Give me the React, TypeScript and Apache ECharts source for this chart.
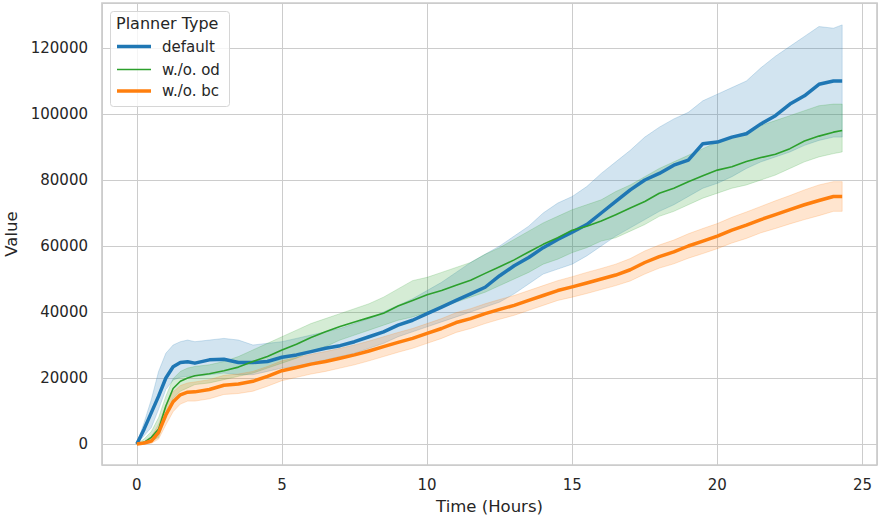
import React, { useEffect, useRef } from "react";
import * as echarts from "echarts";

// Time (hours) at which values were read
const HOURS = [
  0, 0.25, 0.5, 0.75, 1, 1.25, 1.5, 1.75, 2, 2.5, 3, 3.5, 4, 4.5, 5, 5.5, 6, 6.5, 7, 7.5, 8, 8.5, 9, 9.5,
  10, 10.5, 11, 11.5, 12, 12.5, 13, 13.5, 14, 14.5, 15, 15.5, 16, 16.5, 17, 17.5, 18, 18.5, 19, 19.5,
  20, 20.5, 21, 21.5, 22, 22.5, 23, 23.5, 24, 24.3,
];

// Planner Type: default
const DEFAULT_MEAN = [
  0, 4500, 9500, 14500, 20000, 23400, 24700, 24900, 24500, 25500, 25700, 24700, 24700, 25000, 26300, 27000,
  28000, 29000, 29800, 31000, 32500, 34000, 36000, 37500, 39500, 41500, 43500, 45500, 47500, 51000, 54000,
  56500, 59500, 62000, 64200, 66500, 70000, 73500, 77000, 80000, 82000, 84500, 86000, 91000, 91500, 93000,
  94000, 97000, 99500, 103000, 105500, 109000, 110000, 110000,
];
const DEFAULT_HI = [
  0, 6500, 13500, 22000, 27500, 30000, 31000, 31500, 31000, 31500, 32000, 31500, 30000, 30500, 31000, 32000,
  33000, 34000, 35000, 36500, 38000, 40000, 42000, 44000, 46500, 49000, 52000, 55000, 57500, 60000, 63000,
  66000, 70000, 73000, 75000, 78000, 82000, 85500, 89000, 93000, 96000, 98500, 100500, 104000, 106000, 108000,
  110000, 114000, 117500, 120500, 123500, 126500, 126000, 127000,
];
const DEFAULT_LO = [
  0, 2500, 5000, 10500, 16500, 19400, 20200, 20500, 20500, 21000, 21500, 21000, 21000, 22000, 23000, 23500,
  24500, 25500, 26500, 27500, 29000, 30500, 32500, 34000, 35500, 37000, 38500, 40000, 41500, 43000, 45500,
  48500, 51500, 53000, 54500, 57000, 60000, 63000, 65500, 68000, 70500, 72500, 75000, 77500, 79000, 81000,
  83500, 85500, 87000, 88500, 90500, 92000, 93000, 93000,
];

// Planner Type: w./o. od
const OD_MEAN = [
  0, 500, 2000, 4500, 11500, 16800, 19000, 20000, 20700, 21300, 22200, 23300, 25000, 26500, 28500, 30200,
  32300, 34000, 35600, 37000, 38300, 39600, 41800, 43500, 45200, 46500, 48100, 49600, 51700, 53700, 55800,
  58200, 60500, 62500, 64800, 66000, 67600, 69500, 71500, 73500, 76000, 77500, 79500, 81300, 83000, 84000,
  85600, 86800, 87800, 89500, 91800, 93300, 94500, 95000,
];
const OD_HI = [
  0, 1500, 3800, 8000, 14500, 19800, 22000, 23000, 23500, 24000, 25000, 26500, 28500, 30500, 32500, 34500,
  36500, 38000, 39500, 41000, 42500, 44500, 47000, 49500, 50500, 52000, 53500, 55000, 57500, 59500, 62000,
  64500, 67000, 69000, 71000, 72500, 74000, 76500, 78500, 81000, 83500, 85500, 87500, 89500, 91500, 93000,
  94500, 96500, 98000, 99500, 101000, 102500, 103000, 103000,
];
const OD_LO = [
  0, 0, 800, 2000, 8500, 13800, 16000, 17000, 18000, 18500, 19500, 20500, 21500, 23000, 24500, 26000,
  28000, 29500, 31500, 33000, 34500, 36000, 37500, 38500, 40000, 41500, 43000, 44500, 46000, 48000, 50000,
  52000, 54500, 56000, 58000, 59500, 61500, 62500, 64500, 66500, 69000, 70500, 72500, 74500, 76000, 77500,
  78500, 80000, 81500, 83500, 85500, 87000, 88000, 88500,
];

// Planner Type: w./o. bc
const BC_MEAN = [
  0, 300, 900, 3500, 8800, 12800, 14900, 15700, 15800, 16500, 17800, 18200, 19000, 20500, 22200, 23200,
  24200, 25000, 26000, 27000, 28200, 29500, 30800, 32000, 33500, 35000, 36800, 38000, 39500, 40800, 42000,
  43500, 45000, 46500, 47600, 48800, 50000, 51200, 52800, 55000, 56800, 58200, 60000, 61500, 63000, 64800,
  66300, 68000, 69500, 71000, 72500, 73800, 75000, 75000,
];
const BC_HI = [
  0, 700, 2200, 6000, 11800, 15800, 17700, 18500, 18800, 19500, 20800, 21200, 22000, 23500, 25200, 26200,
  27200, 28000, 29000, 30000, 31200, 32500, 33800, 35000, 36500, 38000, 39800, 41000, 42500, 43800, 45000,
  46500, 48000, 49500, 50700, 52000, 53200, 54500, 56200, 58500, 60300, 61800, 63700, 65300, 66800, 68700,
  70300, 72000, 73700, 75300, 77000, 78500, 79500, 79500,
];
const BC_LO = [
  0, 0, 200, 1500, 5800, 9800, 12100, 13000, 13000, 13700, 15000, 15300, 16000, 17500, 19200, 20200,
  21200, 22000, 23000, 24000, 25200, 26500, 27800, 29000, 30500, 32000, 33800, 35000, 36500, 37800, 39000,
  40500, 42000, 43500, 44500, 45600, 46800, 48000, 49400, 51500, 53300, 54600, 56300, 57700, 59200, 60900,
  62300, 64000, 65300, 66700, 68000, 69200, 70500, 70500,
];

const NAMES = ["default", "w./o. od", "w./o. bc"];
const COLORS = ["#1f77b4", "#2ca02c", "#ff7f0e"];
const BAND_COLORS = ["rgba(31,119,180,0.2)", "rgba(44,160,44,0.2)", "rgba(255,127,14,0.2)"];
const WIDTHS = [3.5, 1.6, 3.5];
const LEGEND_TOPS = [39, 62, 83.5];

const FONT = "DejaVu Sans";
const TEXT = "#262626";
const GRID = "#cccccc";

const pairs = (arr: number[]) => HOURS.map((h, i) => [h, arr[i]]);

export default function App() {
  const ref = useRef<HTMLDivElement>(null);

  useEffect(() => {
    if (!ref.current) return;
    const chart = echarts.init(ref.current, undefined, { renderer: "svg" });

    const groups = [
      { mean: DEFAULT_MEAN, hi: DEFAULT_HI, lo: DEFAULT_LO },
      { mean: OD_MEAN, hi: OD_HI, lo: OD_LO },
      { mean: BC_MEAN, hi: BC_HI, lo: BC_LO },
    ];

    const bandSeries = groups.map((g, k) => ({
      type: "custom",
      name: NAMES[k] + " band",
      silent: true,
      clip: true,
      z: 1,
      data: HOURS.map((h, i) => [h, g.lo[i], g.hi[i]]),
      encode: { x: 0, y: [1, 2] },
      renderItem: (params: any, api: any) => {
        if (params.dataIndex !== 0) return null;
        const upper = HOURS.map((h, i) => api.coord([h, g.hi[i]]));
        const lower = HOURS.map((h, i) => api.coord([h, g.lo[i]])).reverse();
        return {
          type: "polygon",
          shape: { points: upper.concat(lower) },
          style: { fill: BAND_COLORS[k], stroke: BAND_COLORS[k], lineWidth: 1 },
          silent: true,
        };
      },
    }));

    const lineSeries = groups.map((g, k) => ({
      type: "line",
      name: NAMES[k],
      data: pairs(g.mean),
      symbol: "none",
      color: COLORS[k],
      lineStyle: { width: WIDTHS[k], color: COLORS[k], join: "round" },
      z: 3,
    }));

    const legends = NAMES.map((n, k) => ({
      data: [{ name: n, icon: "rect" }],
      orient: "vertical",
      left: 117,
      top: LEGEND_TOPS[k],
      padding: 0,
      itemWidth: 34,
      itemHeight: WIDTHS[k],
      z: 10,
      selectedMode: false,
      itemStyle: { color: COLORS[k], borderWidth: 0 },
      textStyle: { fontSize: 15, color: TEXT, fontFamily: FONT, padding: [0, 0, 0, 6] },
    }));

    chart.setOption({
      animation: false,
      textStyle: { fontFamily: FONT },
      grid: {
        left: 102,
        right: 10,
        top: 3,
        bottom: 59,
        outerBoundsMode: "none",
        containLabel: false,
        show: true,
        borderColor: GRID,
        borderWidth: 1.7,
        backgroundColor: "transparent",
      },
      xAxis: {
        type: "value",
        min: -1.2,
        max: 25.5,
        splitNumber: 6,
        name: "Time (Hours)",
        nameLocation: "middle",
        nameGap: 33,
        nameTextStyle: { fontSize: 16.5, color: TEXT, fontFamily: FONT },
        axisLine: { show: false },
        axisTick: { show: false },
        axisLabel: {
          showMinLabel: false,
          showMaxLabel: false,
          fontSize: 15,
          color: TEXT,
          fontFamily: FONT,
          margin: 12,
        },
        splitLine: { show: true, lineStyle: { color: GRID, width: 1 } },
      },
      yAxis: {
        type: "value",
        min: -6364,
        max: 133636,
        splitNumber: 7,
        name: "Value",
        nameLocation: "middle",
        nameGap: 74,
        nameTextStyle: { fontSize: 16.5, color: TEXT, fontFamily: FONT },
        axisLine: { show: false },
        axisTick: { show: false },
        axisLabel: {
          showMinLabel: false,
          showMaxLabel: false,
          fontSize: 15,
          color: TEXT,
          fontFamily: FONT,
          margin: 14,
          formatter: (v: number) => String(v),
        },
        splitLine: { show: true, lineStyle: { color: GRID, width: 1 } },
      },
      legend: legends,
      graphic: [
        {
          type: "rect",
          z: 5,
          shape: { x: 110.5, y: 11.5, width: 119, height: 95, r: 3 },
          style: { fill: "rgba(255,255,255,0.8)", stroke: "#d6d6d6", lineWidth: 1 },
        },
        {
          type: "text",
          z: 10,
          x: 116,
          y: 15,
          style: { text: "Planner Type", fontSize: 16, fill: TEXT, fontFamily: FONT },
        },
      ],
      series: [...bandSeries, ...lineSeries],
    });

    return () => chart.dispose();
  }, []);

  return (
    <div
      ref={ref}
      style={{ position: "fixed", left: 0, top: 0, width: 887, height: 524, background: "#ffffff" }}
    />
  );
}
